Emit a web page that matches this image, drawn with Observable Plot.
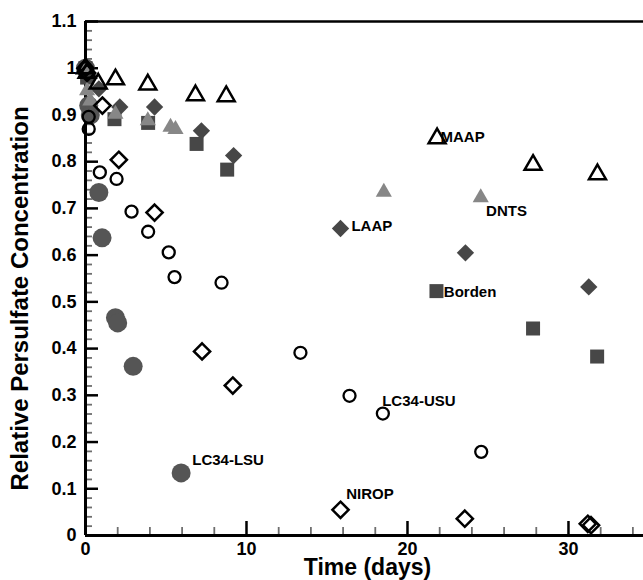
<!DOCTYPE html>
<html>
<head>
<meta charset="utf-8">
<script src="https://cdn.jsdelivr.net/npm/d3@7"></script>
<script src="https://cdn.jsdelivr.net/npm/@observablehq/plot@0.6"></script>
<style>
  html, body { margin: 0; padding: 0; background: white; }
  #chart svg { display: block; }
</style>
</head>
<body>
<div id="chart"></div>
<script>
// ---------- data (time in days, relative persulfate concentration) ----------
const maapT   = [0, 0.1, 0.79, 1.86, 3.87, 6.83, 8.74, 21.84, 27.8, 31.8];
const maapV   = [1.0, 0.99, 0.967, 0.976, 0.965, 0.942, 0.940, 0.850, 0.793, 0.773];

const dntsT   = [0, 0.1, 0.3, 1.86, 3.87, 5.28, 5.59, 18.53, 24.55];
const dntsV   = [1.0, 0.952, 0.93, 0.902, 0.888, 0.874, 0.869, 0.735, 0.723];

const laapT   = [0, 0.1, 0.83, 2.13, 4.29, 7.2, 9.2, 15.84, 23.6, 31.26];
const laapV   = [1.0, 0.99, 0.956, 0.917, 0.917, 0.866, 0.813, 0.657, 0.605, 0.532];

const bordenT = [0, 0.1, 1.8, 3.89, 6.9, 8.8, 21.8, 27.8, 31.78];
const bordenV = [1.0, 0.98, 0.891, 0.883, 0.838, 0.783, 0.523, 0.443, 0.383];

const usuT    = [0, 0.2, 0.2, 0.89, 1.93, 2.86, 3.89, 5.17, 5.53, 8.45, 13.35, 16.4, 18.47, 24.58];
const usuV    = [1.0, 0.896, 0.870, 0.777, 0.763, 0.693, 0.650, 0.606, 0.553, 0.541, 0.391, 0.299, 0.261, 0.179];

const lsuT    = [0, 0.2, 0.3, 0.83, 1.03, 1.86, 2.0, 2.96, 5.94];
const lsuV    = [1.0, 0.92, 0.90, 0.734, 0.637, 0.466, 0.455, 0.362, 0.134];

const niropT  = [0, 0.1, 1.05, 2.07, 4.29, 7.24, 9.15, 15.84, 23.56, 31.2, 31.4];
const niropV  = [1.0, 0.99, 0.92, 0.804, 0.691, 0.394, 0.321, 0.055, 0.036, 0.025, 0.022];

const labelNames = ["MAAP", "DNTS", "LAAP", "Borden", "LC34-USU", "LC34-LSU", "NIROP"];
const labelT     = [22.05, 24.88, 16.52, 22.26, 18.43, 6.63, 16.19];
const labelV     = [0.852, 0.695, 0.662, 0.520, 0.287, 0.161, 0.089];

const xTicks = [0, 10, 20, 30];
const yTicks = [0, 0.1, 0.2, 0.3, 0.4, 0.5, 0.6, 0.7, 0.8, 0.9, 1.0, 1.1];
const xTitle = "Time (days)";
const yTitle = "Relative Persulfate Concentration";

// ---------- layout ----------
const W = 643, H = 580, mL = 85, mR = 0, mT = 21, mB = 45;
const plotW = W - mL - mR, plotH = H - mT - mB;
const xDomain = [0, 34.66], yDomain = [0, 1.1];
const xPerPx = (xDomain[1] - xDomain[0]) / plotW;   // data units per pixel
const yPerPx = (yDomain[1] - yDomain[0]) / plotH;
const xMinor = d3.range(2, 35, 2).filter(v => v % 10 !== 0);
const yMinor = d3.range(0, 1.1001, 0.02).map(v => +v.toFixed(2)).filter(v => Math.abs(v * 10 - Math.round(v * 10)) > 1e-6);

const pts = (T, V) => T.map((t, i) => ({t, v: V[i]}));
const FONT = "'Liberation Sans', Arial, Helvetica, sans-serif";
const DARK = "#474747";

const chart = Plot.plot({
  width: W, height: H,
  marginLeft: mL, marginRight: mR, marginTop: mT, marginBottom: mB,
  x: {domain: xDomain},
  y: {domain: yDomain},
  style: {fontFamily: FONT, background: "white"},
  marks: [
    // inward ticks (minor grey, major black)
    Plot.ruleY(yMinor, {y: d => d, x1: () => 0, x2: () => 7 * xPerPx, stroke: "#6e6e6e", strokeWidth: 1.8}),
    Plot.ruleY(yTicks, {y: d => d, x1: () => 0, x2: () => 13 * xPerPx, stroke: "black", strokeWidth: 2.5}),
    Plot.ruleX(xMinor, {x: d => d, y1: () => 0, y2: () => 8 * yPerPx, stroke: "#6e6e6e", strokeWidth: 1.8}),
    Plot.ruleX(xTicks, {x: d => d, y1: () => 0, y2: () => 14 * yPerPx, stroke: "black", strokeWidth: 2.5}),
    // frame lines
    Plot.ruleY([1.1], {stroke: "black", strokeWidth: 2.5}),
    Plot.ruleX([0], {stroke: "black", strokeWidth: 3}),
    Plot.ruleY([0], {stroke: "black", strokeWidth: 3}),
    // tick labels
    Plot.axisY({ticks: yTicks, tickSize: 0, tickPadding: 9, label: null,
      tickFormat: d => String(+d.toFixed(1)), fontSize: 18, fontWeight: "bold"}),
    Plot.axisX({ticks: xTicks, tickSize: 0, tickPadding: 7, label: null,
      tickFormat: d => String(d), fontSize: 18, fontWeight: "bold"}),
    // titles
    Plot.text([xTitle], {frameAnchor: "bottom", dx: 3, dy: 32, textAnchor: "middle", lineAnchor: "middle",
      fontSize: 23, fontWeight: "bold"}),
    Plot.text([yTitle], {frameAnchor: "left", dx: -65, dy: 20, rotate: -90, textAnchor: "middle", lineAnchor: "middle",
      fontSize: 24, fontWeight: "bold", letterSpacing: 0.7}),
    // series
    Plot.dot(pts(lsuT, lsuV), {x: "t", y: "v", symbol: "circle", r: 9.5, fill: "#555555", stroke: "none"}),
    Plot.dot(pts(bordenT, bordenV), {x: "t", y: "v", symbol: "square", r: 7.9, fill: DARK, stroke: "none"}),
    Plot.dot(pts(laapT, laapV), {x: "t", y: "v", symbol: "diamond2", r: 7.8, fill: DARK, stroke: "none"}),
    Plot.dot(pts(dntsT, dntsV), {x: "t", y: "v", symbol: "triangle", r: 6, fill: "#878787", stroke: "none"}),
    Plot.dot(pts(niropT, niropV), {x: "t", y: "v", symbol: "diamond2", r: 7.3, fill: "none", stroke: "black", strokeWidth: 2.5}),
    Plot.dot(pts(usuT, usuV), {x: "t", y: "v", symbol: "circle", r: 6, fill: "none", stroke: "black", strokeWidth: 2.3}),
    Plot.dot(pts(maapT, maapV), {x: "t", y: "v", symbol: "triangle", r: 6.3, fill: "none", stroke: "black", strokeWidth: 2.5}),
    // series labels
    Plot.text(labelNames, {x: (d, i) => labelT[i], y: (d, i) => labelV[i], text: d => d,
      textAnchor: "start", lineAnchor: "middle", fontSize: 15, fontWeight: "bold", fill: "black"})
  ]
});
document.getElementById("chart").appendChild(chart);
</script>
</body>
</html>
